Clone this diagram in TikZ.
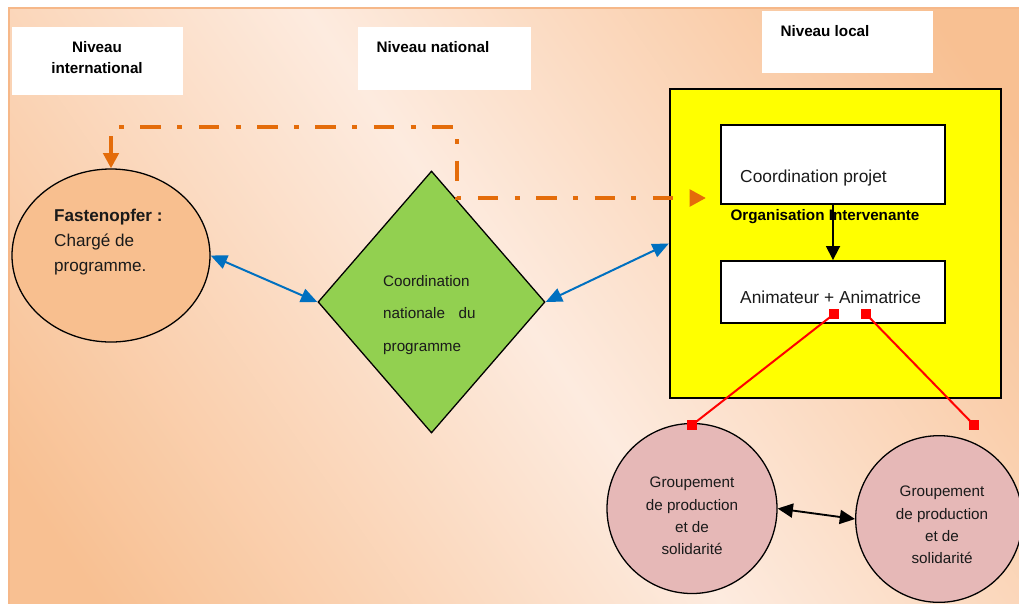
\documentclass[tikz,border=0pt]{standalone}
\usepackage{fontspec}
\setmainfont{Liberation Sans}
\usetikzlibrary{shapes.geometric,arrows.meta}

\definecolor{bgdark}{HTML}{F8C092}
\definecolor{bglight}{HTML}{FDEBDF}
\definecolor{bgedge}{HTML}{F6B889}
\definecolor{orangeline}{HTML}{E46C0A}
\definecolor{peach}{HTML}{F8BF8F}
\definecolor{leaf}{HTML}{92D050}
\definecolor{rose}{HTML}{E6B8B7}
\definecolor{linkblue}{HTML}{0070C0}
\definecolor{ink}{HTML}{1A1A1A}
\definecolor{signal}{HTML}{FFFF00}

\pgfdeclarehorizontalshading{bgshade}{100bp}{color(0bp)=(bgdark); color(20bp)=(bgdark); color(50bp)=(bglight); color(80bp)=(bgdark); color(100bp)=(bgdark)}

\tikzset{
  lvlbox/.style={draw=none, fill=white, inner sep=0pt},
  lvltext/.style={font=\bfseries\fontsize{13}{18}\selectfont, text=black, align=center, inner sep=0pt},
  whitebox/.style={draw=black, line width=1.6pt, fill=white, inner sep=0pt},
  bodytext/.style={font=\fontsize{14.8}{20}\selectfont, text=ink, inner sep=0pt},
  smalltext/.style={font=\fontsize{13}{19}\selectfont, text=ink, inner sep=0pt, align=center},
  bluelink/.style={draw=linkblue, line width=1.7pt, {Triangle[length=14pt,width=12pt]}-{Triangle[length=14pt,width=12pt]}},
  blacklink/.style={draw=black, line width=1.6pt, {Triangle[length=13pt,width=12pt]}-{Triangle[length=13pt,width=12pt]}},
  downlink/.style={draw=black, line width=1.4pt, -{Triangle[length=12pt,width=12pt]}},
  orangedash/.style={draw=orangeline, line width=4pt, dash pattern=on 4.3pt off 14pt on 17.5pt off 14pt, -{Triangle[length=14pt,width=14pt]}},
  orangesolid/.style={draw=orangeline, line width=3.5pt, -{Triangle[length=13pt,width=13pt]}},
  redsq/.style={fill=red, draw=none, minimum size=0.3cm, inner sep=0pt},
  redlink/.style={draw=red, line width=1.7pt},
}

\begin{document}
\begin{tikzpicture}[x=0.03cm,y=-0.03cm]
\useasboundingbox (0,0) rectangle (1019,603);
\fill[white] (0,0) rectangle (1019,603);
% shaded backdrop
\shade[shading=bgshade, shading angle=35, draw=bgedge, line width=1.5pt] (9,8) rectangle (1030,615);

% level headings
\node[lvlbox, minimum width=5.13cm, minimum height=2.04cm] (intlbox) at (97.5,61) {};
\node[lvltext] (intl) at (97,58) {Niveau\\international};
\node[lvlbox, minimum width=5.19cm, minimum height=1.89cm] (natlbox) at (444.5,58.5) {};
\node[lvltext] (natl) at (433,47) {Niveau national};
\node[lvlbox, minimum width=5.13cm, minimum height=1.86cm] (localbox) at (847.5,42) {};
\node[lvltext] (local) at (825,31) {Niveau local};

% local organisation
\node[draw=black, line width=2pt, fill=signal, minimum width=9.93cm, minimum height=9.27cm, inner sep=0pt] (yel) at (835.5,243.5) {};
\node[whitebox, minimum width=6.72cm, minimum height=2.37cm] (coord) at (833,164.5) {};
\node[bodytext, anchor=west] (coordtxt) at (740,178) {Coordination projet};
\node[whitebox, minimum width=6.72cm, minimum height=1.86cm] (anim) at (833,292) {};
\node[bodytext, anchor=west] (animtxt) at (740,297) {Animateur + Animatrice};
\draw[downlink] (coord.south) -- (anim.north);
\node[lvltext] (orgtxt) at (825,217) {Organisation Intervenante};

% international partner
\node[ellipse, draw=black, line width=1.1pt, fill=peach, minimum width=5.94cm, minimum height=5.19cm, inner sep=0pt] (fast) at (111,255.5) {};
\node[bodytext, anchor=west, align=left, font=\fontsize{14.6}{21.5}\selectfont] (fasttxt) at (54,242) {\textbf{Fastenopfer :}\\Chargé de\\programme.};

% national coordination
\node[diamond, draw=black, line width=1.1pt, fill=leaf, minimum width=6.81cm, minimum height=7.86cm, inner sep=0pt] (diam) at (431.5,302) {};
\node[smalltext, anchor=west, align=left, font=\fontsize{13}{28}\selectfont] (diamtxt) at (383,315) {Coordination\\nationale\hspace{0.9em}du\\programme};

% producer groups
\node[circle, draw=black, line width=1.1pt, fill=rose, minimum size=5.1cm, inner sep=0pt] (g1) at (692,508.5) {};
\node[smalltext] (g1txt) at (692,516) {Groupement\\de production\\et de\\solidarité};
\node[circle, draw=black, line width=1.1pt, fill=rose, minimum size=5.0cm, inner sep=0pt] (g2) at (939,519) {};
\node[smalltext] (g2txt) at (942,525) {Groupement\\de production\\et de\\solidarité};

% links
\draw[bluelink] (fast.east) -- (diam.west);
\draw[bluelink] (diam.east) -- (yel.west);
\draw[blacklink] (g1.east) -- (g2.west);

% reporting line
\coordinate (ostart) at (119,127);
\coordinate (obend) at (457,127);
\coordinate (otip) at (706,198);
\coordinate (ofrom) at (111,136);
\draw[orangedash] (ostart) -- (obend) |- (otip);
\draw[orangesolid] (ofrom) -- (fast.north);

% field links
\node[redsq] (ra) at (834,314) {};
\node[redsq] (rb) at (866,314) {};
\node[redsq] (rc) at (692,425) {};
\node[redsq] (rd) at (974,425) {};
\draw[redlink] (ra.center) -- (rc.center);
\draw[redlink] (rb.center) -- (rd.center);
\end{tikzpicture}
\end{document}
